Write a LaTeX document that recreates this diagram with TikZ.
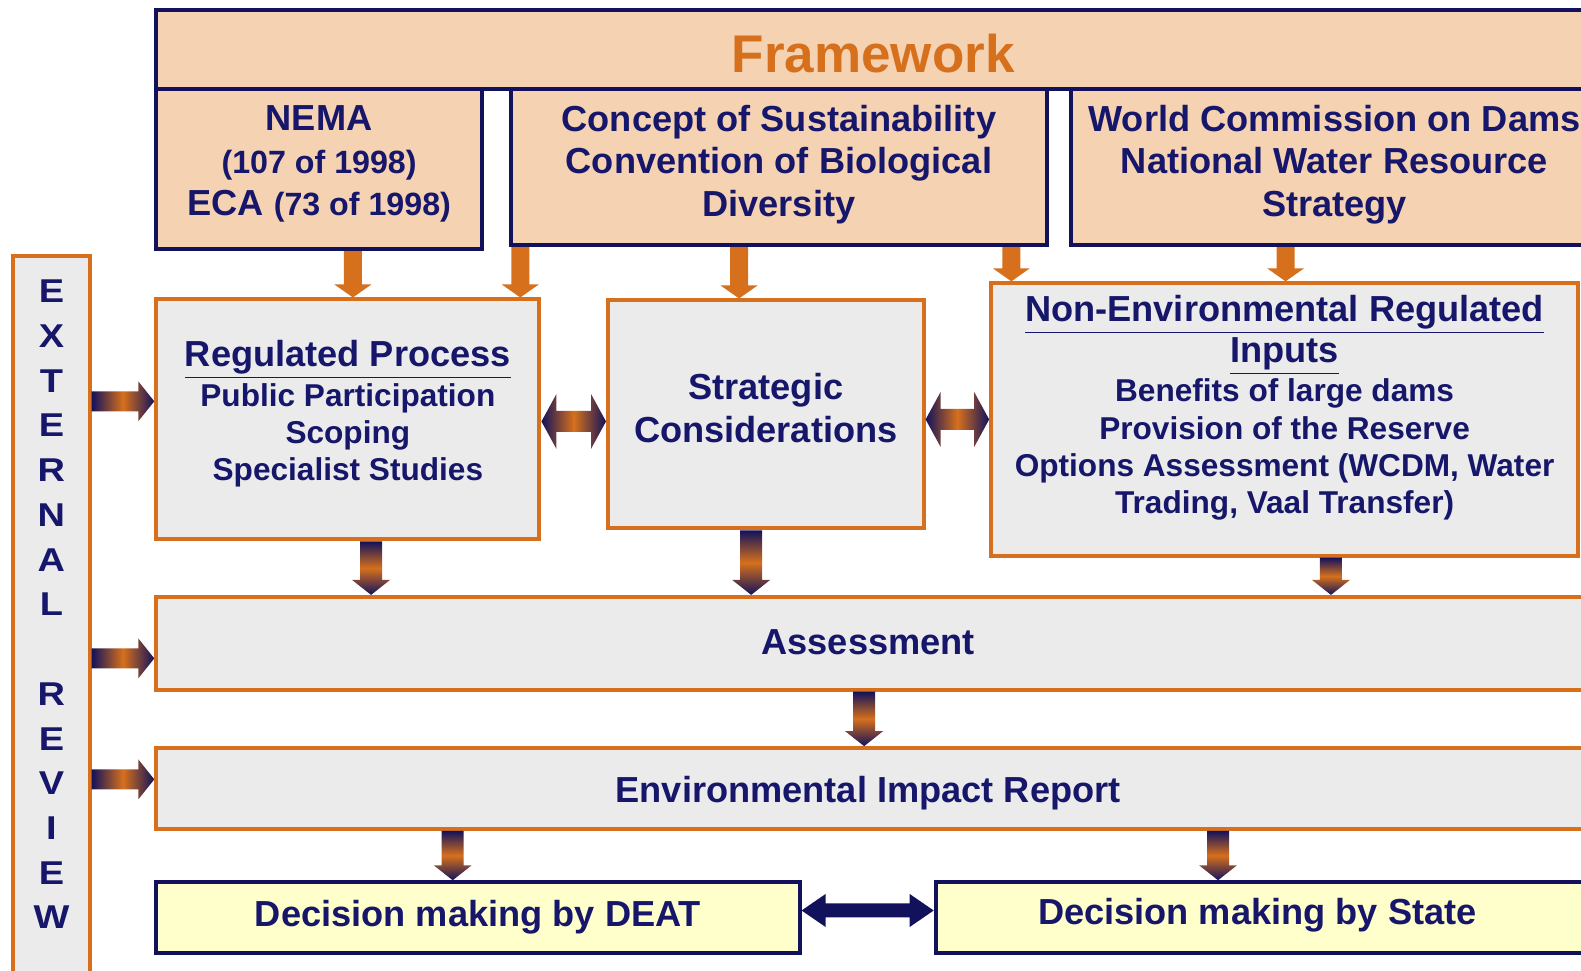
\documentclass[tikz,border=0pt]{standalone}
\usepackage{fontspec}
\setmainfont{Liberation Sans}
\usetikzlibrary{calc}
\definecolor{navyline}{HTML}{12125C}
\definecolor{navytext}{HTML}{16166A}
\definecolor{peach}{HTML}{F4D2B2}
\definecolor{greyfill}{HTML}{EBEBEB}
\definecolor{paleyellow}{HTML}{FFFFCC}
\definecolor{rust}{HTML}{D6701C}

\begin{document}
\begin{tikzpicture}[x=0.50415pt,y=-0.50415pt,
    wh/.style 2 args={minimum width={(#1)*0.50415pt},minimum height={(#2)*0.50415pt}},
    box/.style={draw,line width=2pt,inner sep=0pt},
    framebox/.style={box,draw=navyline,fill=peach},
    greybox/.style={box,draw=rust,fill=greyfill},
    decbox/.style={box,draw=navyline,fill=paleyellow},
    txt/.style={text=navytext,align=center,font=\bfseries\fontsize{18.1}{21.2}\selectfont},
    small/.style={font=\bfseries\fontsize{15.8}{18.6}\selectfont},
    shaft/.store in=\sw, head/.store in=\hw, headlen/.store in=\hl,
    orangearr/.style={fill=rust,shaft=4.5pt,head=9.25pt,headlen=6.5pt},
    fadearr/.style={top color=navyline,bottom color=navyline,middle color=rust,shaft=5.5pt,head=9.5pt,headlen=7.5pt},
    sidearr/.style={left color=navyline,right color=navyline,middle color=rust,shaft=5pt,head=10pt,headlen=8pt},
    twinarr/.style={left color=navyline,right color=navyline,middle color=rust,shaft=5.25pt,head=13.75pt,headlen=7.5pt},
    navytwin/.style={fill=navyline,shaft=3.5pt,head=8.25pt,headlen=12pt}]
    % mui ten xuong / sang phai / hai dau
    \def\downarr#1#2#3{\path[#1] let \p1=(#2), \p2=(#3) in
        (\x1-\sw,\y1)--(\x1+\sw,\y1)--(\x1+\sw,\y2+\hl)--(\x1+\hw,\y2+\hl)--(\x1,\y2)
        --(\x1-\hw,\y2+\hl)--(\x1-\sw,\y2+\hl)--cycle;}
    \def\rightarr#1#2#3{\path[#1] let \p1=(#2), \p2=(#3) in
        (\x1,\y1+\sw)--(\x2-\hl,\y1+\sw)--(\x2-\hl,\y1+\hw)--(\x2,\y1)
        --(\x2-\hl,\y1-\hw)--(\x2-\hl,\y1-\sw)--(\x1,\y1-\sw)--cycle;}
    \def\twoarr#1#2#3{\path[#1] let \p1=(#2), \p2=(#3) in
        (\x1,\y1)--(\x1+\hl,\y1+\hw)--(\x1+\hl,\y1+\sw)--(\x2-\hl,\y1+\sw)--(\x2-\hl,\y1+\hw)
        --(\x2,\y1)--(\x2-\hl,\y1-\hw)--(\x2-\hl,\y1-\sw)--(\x1+\hl,\y1-\sw)--(\x1+\hl,\y1-\hw)--cycle;}
    \clip (0,0) rectangle (1568,963);

    \node[framebox,wh={1437}{78}] (fw) at (873.5,49) {};
    \node[txt,text=rust,font=\bfseries\fontsize{26.5}{30}\selectfont] (fwt) at (866,53) {Framework};
    \node[framebox,txt,wh={323}{159},text depth=8.3pt] (nema) at (316.5,167.5)
        {NEMA\\{\fontsize{16.1}{21.2}\selectfont(107 of 1998)}\\ECA {\fontsize{16.1}{21.2}\selectfont(73 of 1998)}};
    \node[framebox,txt,wh={531}{155},text depth=6.3pt] (con) at (772.5,165.5)
        {Concept of Sustainability\\Convention of Biological\\Diversity};
    \node[framebox,txt,wh={523}{155},text depth=6.3pt] (wcd) at (1323.5,165.5)
        {World Commission on Dams\\National Water Resource\\Strategy};

    \node[greybox,wh={76}{713}] (ext) at (51,610.5) {};
    \foreach \i/\c in {0/E,1/X,2/T,3/E,4/R,5/N,6/A,7/L,9/R,10/E,11/V,12/I,13/E,14/W}
        \node[txt,font=\bfseries\fontsize{16.5}{18}\selectfont] (ext\i) at (51,{289+44.36*\i}) {\scalebox{1.15}[1]{\c}};

    \node[greybox,txt,small,wh={380}{238},text depth=8.8pt] (reg) at (345,416)
        {{\fontsize{18.1}{21.2}\selectfont\underline{Regulated Process}}\\[1pt]Public Participation\\Scoping\\Specialist Studies};
    \node[greybox,txt,wh={313}{226},text depth=6.5pt,font=\bfseries\fontsize{18.1}{21.7}\selectfont] (str) at (759.5,411)
        {Strategic\\Considerations};
    \node[greybox,txt,small,wh={582}{270},text depth=15pt] (ne) at (1274,416)
        {{\fontsize{18.1}{21.2}\selectfont\underline{Non-Environmental Regulated}}\\[2pt]
         {\fontsize{18.1}{21.2}\selectfont\underline{Inputs}}\\[1pt]
         Benefits of large dams\\Provision of the Reserve\\Options Assessment (WCDM, Water\\Trading, Vaal Transfer)};

    \node[greybox,wh={1437}{92}] (ass) at (873.5,638) {};
    \node[txt] (asst) at (861,637) {Assessment};
    \node[greybox,wh={1437}{80}] (eir) at (873.5,782) {};
    \node[txt] (eirt) at (861,787) {Environmental Impact Report};
    \node[decbox,txt,wh={638}{70}] (deat) at (474,910) {Decision making by DEAT};
    \node[decbox,wh={664}{70}] (state) at (1260,910) {};
    \node[txt] (statet) at (1247,908) {Decision making by State};

    \downarr{orangearr}{350,0 |- nema.south}{reg.north}
    \downarr{orangearr}{516,0 |- con.south}{reg.north}
    \downarr{orangearr}{733,0 |- con.south}{str.north}
    \downarr{orangearr}{1003,0 |- con.south}{ne.north}
    \downarr{orangearr}{1275,0 |- wcd.south}{ne.north}
    \downarr{fadearr}{368,0 |- reg.south}{ass.north}
    \downarr{fadearr}{745,0 |- str.south}{ass.north}
    \downarr{fadearr}{1320,0 |- ne.south}{ass.north}
    \downarr{fadearr}{857,0 |- ass.south}{eir.north}
    \downarr{fadearr}{449,0 |- eir.south}{deat.north}
    \downarr{fadearr}{1208,0 |- eir.south}{state.north}
    \rightarr{sidearr}{ext.east |- 0,398}{reg.west}
    \rightarr{sidearr}{ext.east |- 0,653}{ass.west}
    \rightarr{sidearr}{ext.east |- 0,773}{eir.west}
    \twoarr{twinarr}{reg.east |- 0,418}{str.west}
    \twoarr{twinarr}{str.east |- 0,416}{ne.west}
    \twoarr{navytwin}{deat.east |- 0,903}{state.west}
\end{tikzpicture}
\end{document}
